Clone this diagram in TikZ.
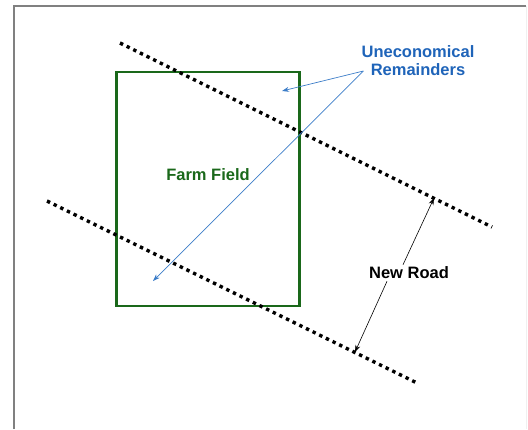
\documentclass[tikz,border=0pt]{standalone}
\usepackage{fontspec}
\setmainfont{Liberation Sans}
\usetikzlibrary{arrows.meta}
\definecolor{fieldgreen}{RGB}{26,104,26}
\definecolor{notblue}{RGB}{31,100,185}
\definecolor{arrowblue}{RGB}{60,125,200}
\def\upperroad{(120,43) -- (492,227)}
\def\lowerroad{(47,201) -- (417,383)}

\begin{document}
\begin{tikzpicture}[x=1pt, y=-1pt,
    road/.style={line width=3.4pt, dash pattern=on 3.4pt off 4pt},
    field/.style={draw=fieldgreen, line width=2.8pt, minimum width=183pt, minimum height=234pt},
    caption/.style={font=\fontsize{16.5}{18}\selectfont\bfseries, inner sep=2pt},
    note/.style={-{Stealth[length=7pt, width=5pt]}, arrowblue, line width=0.7pt},
    span/.style={-{Stealth[length=7pt, width=5pt]}, line width=0.6pt}]
    \useasboundingbox (0,0) rectangle (528,429);
    \draw[gray, line width=1.6pt] (14,429) -- (14,6) -- (526,6);
    \draw[black!6, line width=0.8pt] (526,6) -- (526,429);

    \node[field] (field) at (208,189) {};
    \node[caption, fieldgreen] (farm) at (208,175) {Farm Field};

    \draw[road] \upperroad;
    \draw[road] \lowerroad;
    \coordinate (uproad) at (434,198);
    \coordinate (lowroad) at (355,352);

    \node[caption, notblue, align=center] (remain) at (418,61) {Uneconomical\\Remainders};
    \coordinate (fork) at ([xshift=4pt, yshift=-10pt]remain.west);
    \coordinate (gap1) at (282,91);
    \coordinate (gap2) at (153,281);
    \draw[note] (fork) -- (gap1);
    \draw[note] (fork) -- (gap2);

    \node[caption] (newroad) at (409,273) {New Road};
    \draw[span] ([xshift=-6pt]newroad.north) -- (uproad);
    \draw[span] ([xshift=-22pt]newroad.south) -- (lowroad);
\end{tikzpicture}
\end{document}
